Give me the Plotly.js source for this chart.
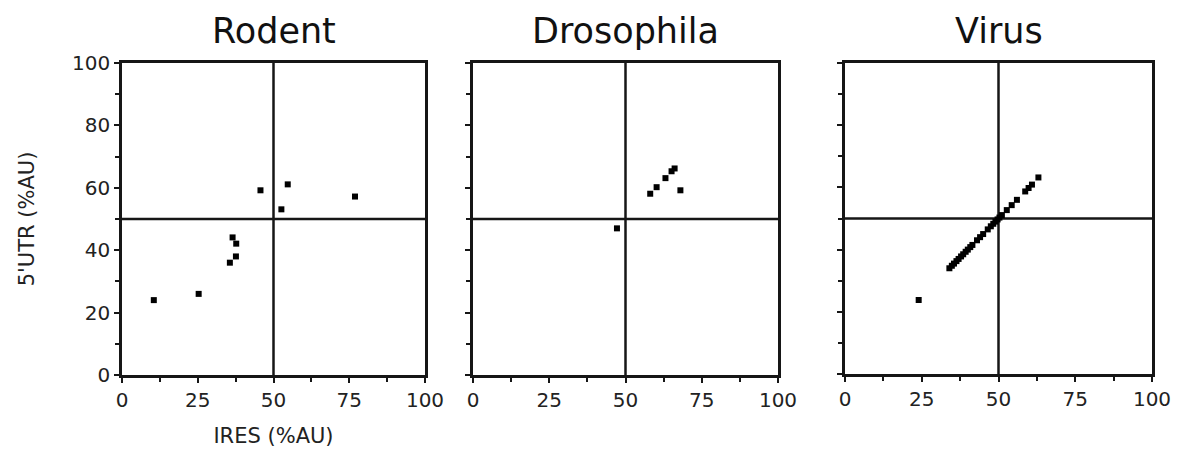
<!DOCTYPE html>
<html>
<head>
<meta charset="utf-8">
<script src="https://cdn.plot.ly/plotly-3.0.1.min.js"></script>
<style>html,body{margin:0;padding:0;background:#fff}#chart{width:1186px;height:455px}</style>
</head>
<body>
<div id="chart"></div>
<script>
// ---- data ----
const panelTitles = ["Rodent", "Drosophila", "Virus"];
const xTitle = "IRES (%AU)";
const yTitle = "5'UTR (%AU)";
const xTickVals = [0, 25, 50, 75, 100];
const yTickVals = [0, 20, 40, 60, 80, 100];
const quadrantSplit = 50;

const rodentIRES = [10.5, 25.3, 35.6, 36.5, 37.6, 37.7, 45.7, 52.6, 54.7, 76.9];
const rodentUTR  = [24.0, 26.0, 36.0, 44.1, 38.0, 42.1, 59.2, 53.1, 61.1, 57.2];

const drosIRES = [47.2, 58.1, 60.2, 63.1, 65.1, 66.1, 68.0];
const drosUTR  = [47.0, 58.1, 60.2, 63.1, 65.3, 66.2, 59.2];

const virusIRES = [24.0, 34.0, 34.8, 35.5, 36.3, 37.0, 37.8, 38.5, 39.3, 40.0, 40.8, 41.5,
                   43.0, 44.0, 45.0, 46.5, 47.5, 48.3, 49.0, 49.7, 50.3,
                   51.1, 52.7, 54.3, 56.0, 58.7, 59.8, 60.9, 63.0];
const virusUTR  = [23.8, 34.0, 34.8, 35.5, 36.3, 37.0, 37.8, 38.5, 39.3, 40.0, 40.8, 41.5,
                   43.0, 44.0, 45.0, 46.5, 47.5, 48.3, 49.0, 49.7, 50.3,
                   51.1, 52.7, 54.3, 56.0, 58.7, 59.8, 60.9, 63.2];

// ---- layout helpers ----
const W = 1186, H = 455;
const px = (a, b) => [a / W, b / W];
const py = (top, bottom) => [1 - bottom / H, 1 - top / H];
const xDomains = [px(122, 425), px(473, 778), px(845, 1152)];
const yDomains = [py(63, 375), py(63, 375), py(63, 374)];

const ink = "#161616";
const textCol = "#222";
const FONT = "DejaVu Sans, Liberation Sans, sans-serif";

const seriesX = [rodentIRES, drosIRES, virusIRES];
const seriesY = [rodentUTR, drosUTR, virusUTR];

const traces = [];
const layout = {
  width: W, height: H,
  margin: {l: 0, r: 0, t: 0, b: 0},
  paper_bgcolor: "#fff", plot_bgcolor: "#fff",
  showlegend: false,
  font: {family: FONT, color: textCol},
  annotations: [], shapes: []
};

for (let i = 0; i < 3; i++) {
  const sfx = i === 0 ? "" : String(i + 1);
  traces.push({
    type: "scatter", mode: "markers",
    x: seriesX[i], y: seriesY[i],
    xaxis: "x" + sfx, yaxis: "y" + sfx,
    marker: {symbol: "square", size: 6, color: "#000", line: {width: 0}},
    hoverinfo: "x+y"
  });
  const common = {
    range: [0, 100], showgrid: false, zeroline: false,
    showline: true, mirror: true, linecolor: ink, linewidth: 2.5,
    ticks: "outside", tickcolor: ink, tickwidth: 2,
    tickfont: {family: FONT, size: 20, color: textCol},
    fixedrange: true
  };
  layout["xaxis" + sfx] = Object.assign({}, common, {
    domain: xDomains[i], anchor: "y" + sfx,
    tickmode: "array", tickvals: xTickVals, ticklen: 5,
    minor: {dtick: 12.5, tick0: 0, ticks: "outside", ticklen: 4, tickcolor: ink, tickwidth: 2},
    title: i === 0 ? {text: xTitle, font: {family: FONT, size: 21, color: textCol}, standoff: 18} : {text: ""}
  });
  layout["yaxis" + sfx] = Object.assign({}, common, {
    domain: yDomains[i], anchor: "x" + sfx,
    tickmode: "array", tickvals: yTickVals, ticklen: 5,
    showticklabels: i === 0,
    minor: {dtick: 10, tick0: 0, ticks: "outside", ticklen: 4, tickcolor: ink, tickwidth: 2},
    title: i === 0 ? {text: yTitle, font: {family: FONT, size: 21, color: textCol}, standoff: 32} : {text: ""}
  });
  layout.annotations.push({
    text: panelTitles[i], showarrow: false,
    xref: "paper", yref: "paper",
    x: (xDomains[i][0] + xDomains[i][1]) / 2, y: 1 - 31 / H,
    xanchor: "center", yanchor: "middle",
    font: {family: FONT, size: 35, color: "#111"}
  });
  layout.shapes.push(
    {type: "line", xref: "x" + sfx, yref: "y" + sfx, x0: quadrantSplit, x1: quadrantSplit, y0: 0, y1: 100,
     line: {color: ink, width: 2.5}, layer: "below"},
    {type: "line", xref: "x" + sfx, yref: "y" + sfx, x0: 0, x1: 100, y0: quadrantSplit, y1: quadrantSplit,
     line: {color: ink, width: 2.5}, layer: "below"}
  );
}

Plotly.newPlot("chart", traces, layout, {displayModeBar: false});
</script>
</body>
</html>
